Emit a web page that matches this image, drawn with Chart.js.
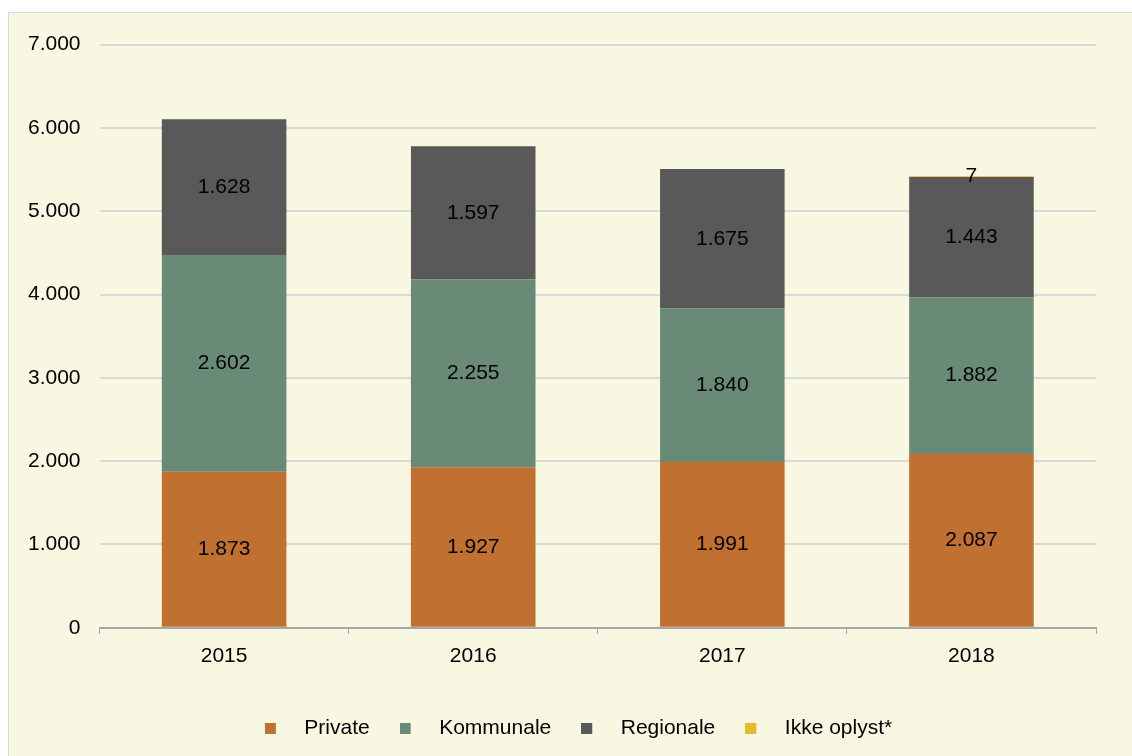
<!DOCTYPE html>
<html>
<head>
<meta charset="utf-8">
<script src="https://cdn.jsdelivr.net/npm/chart.js@4.4.0/dist/chart.umd.min.js"></script>
<style>
  body { margin: 0; background: #ffffff; overflow: hidden; }
  #box {
    position: absolute; left: 8px; top: 12px;
    width: 1140px; height: 780px;
    border: 1px solid #d9d9d9;
    background: #f8f7e1;
  }
</style>
</head>
<body>
<div id="box"><canvas id="myChart" width="1123" height="760"></canvas></div>
<script>
const years = ["2015", "2016", "2017", "2018"];
const privateVals = [1873, 1927, 1991, 2087];
const kommunaleVals = [2602, 2255, 1840, 1882];
const regionaleVals = [1628, 1597, 1675, 1443];
const ikkeOplystVals = [0, 0, 0, 7];
const yTicks = [0, 1000, 2000, 3000, 4000, 5000, 6000, 7000];

const fontFamily = "'Liberation Sans', Arial, sans-serif";
const fontSize = 21;

function fmt(v) {
  return String(v).replace(/\B(?=(\d{3})+(?!\d))/g, ".");
}

// legend marker: small square on the left of a wider transparent image
function marker(color) {
  const c = document.createElement("canvas");
  c.width = 29;
  c.height = 11;
  const g = c.getContext("2d");
  g.fillStyle = color;
  g.fillRect(0, 0, 11, 11);
  return c;
}

const segLabels = {
  id: "segLabels",
  afterDatasetsDraw(chart) {
    const ctx = chart.ctx;
    ctx.save();
    ctx.font = fontSize + "px " + fontFamily;
    ctx.fillStyle = "#000000";
    ctx.textAlign = "center";
    ctx.textBaseline = "middle";
    chart.data.datasets.forEach((ds, i) => {
      const meta = chart.getDatasetMeta(i);
      meta.data.forEach((bar, j) => {
        const v = ds.data[j];
        if (!v) return;
        ctx.fillText(fmt(v), bar.x, (bar.y + bar.base) / 2);
      });
    });
    ctx.restore();
  }
};

// the legend sits a bit right of the canvas centre in the original
const legendShift = {
  id: "legendShift",
  afterLayout(chart) {
    chart.legend.left += 26;
    chart.legend.right += 26;
  }
};

const colors = {
  "Private": "#c07030",
  "Kommunale": "#6a8a78",
  "Regionale": "#595959",
  "Ikke oplyst*": "#e6b92e"
};

const series = [
  ["Private", privateVals],
  ["Kommunale", kommunaleVals],
  ["Regionale", regionaleVals],
  ["Ikke oplyst*", ikkeOplystVals]
];

const datasets = series.map(([label, vals]) => ({
  label: label,
  data: vals,
  backgroundColor: colors[label],
  pointStyle: marker(colors[label]),
  barPercentage: 1,
  categoryPercentage: 0.5
}));

new Chart("myChart", {
  type: "bar",
  data: { labels: years, datasets: datasets },
  plugins: [segLabels, legendShift],
  options: {
    responsive: false,
    animation: false,
    layout: { padding: { left: 0, right: 36, top: 24, bottom: 24 } },
    plugins: {
      tooltip: { enabled: false },
      legend: {
        position: "bottom",
        labels: {
          usePointStyle: true,
          pointStyleWidth: 29,
          boxHeight: 11,
          padding: 30,
          color: "#000000",
          font: { family: fontFamily, size: fontSize }
        }
      }
    },
    scales: {
      x: {
        stacked: true,
        afterFit: scale => { scale.height += 9; },
        grid: {
          display: true,
          offset: true,
          drawOnChartArea: false,
          tickLength: 6,
          color: "#a6a6a6"
        },
        border: { color: "#a6a6a6", width: 2 },
        ticks: {
          color: "#000000",
          padding: 10,
          font: { family: fontFamily, size: fontSize }
        }
      },
      y: {
        stacked: true,
        min: 0,
        max: 7000,
        afterBuildTicks: axis => { axis.ticks = yTicks.map(v => ({ value: v })); },
        grid: { color: "#d9d9d9", lineWidth: 2, drawTicks: false },
        border: { display: false },
        ticks: {
          color: "#000000",
          padding: 19,
          font: { family: fontFamily, size: fontSize },
          callback: v => fmt(v)
        }
      }
    }
  }
});
</script>
</body>
</html>
